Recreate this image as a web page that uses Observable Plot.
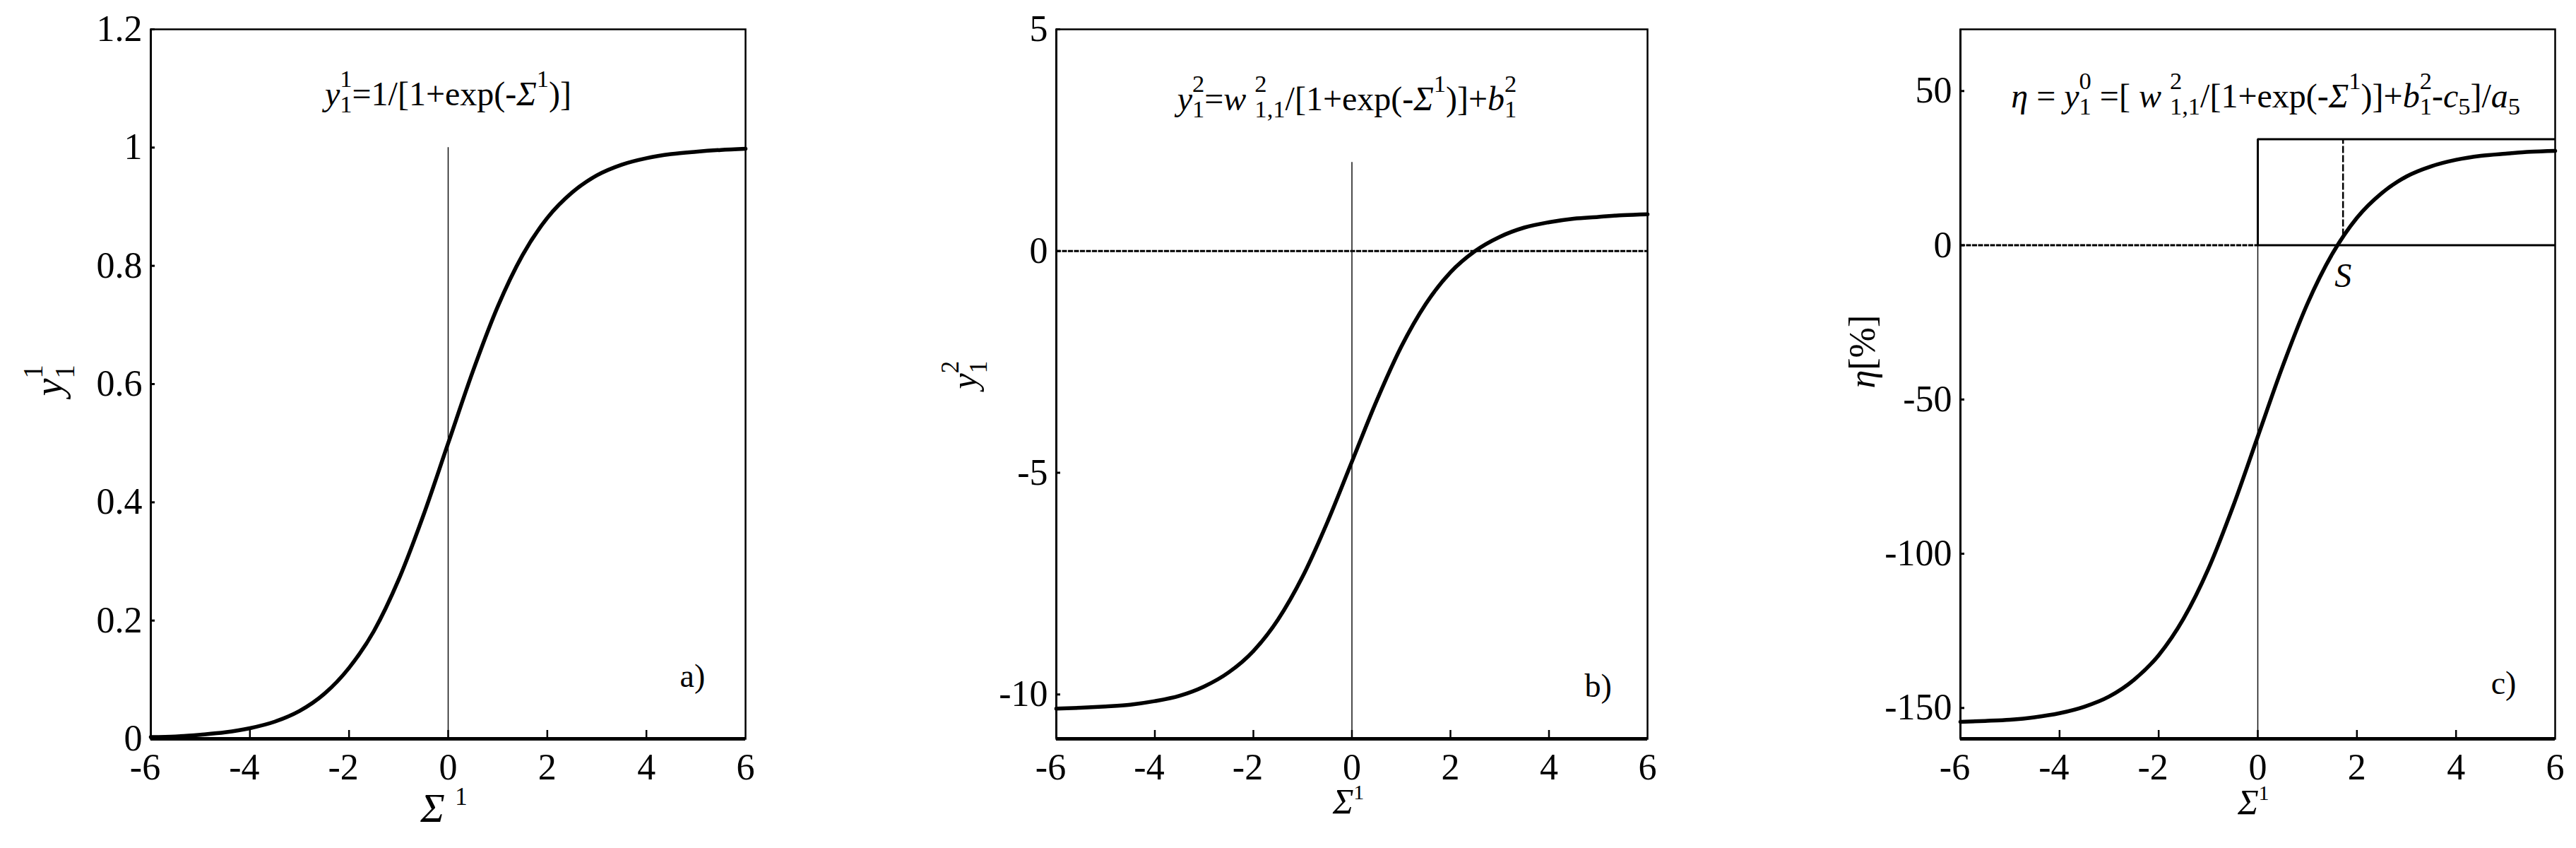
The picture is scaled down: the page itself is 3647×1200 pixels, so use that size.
<!DOCTYPE html>
<html><head><meta charset="utf-8">
<script src="https://cdn.jsdelivr.net/npm/d3@7"></script>
<script src="https://cdn.jsdelivr.net/npm/@observablehq/plot@0.6"></script>
<style>
body{margin:0;background:#fff}
#wrap{position:relative;width:3647px;height:1200px;overflow:hidden;background:#fff}
.panel{position:absolute;top:0}
.panel svg, .panel svg text, .panel svg tspan{font-family:"Liberation Serif","Times New Roman",Times,serif !important}
</style></head><body><div id="wrap"></div>
<script>
// ---------- data ----------
const sigma = [-6, -5.5, -5, -4.5, -4, -3.5, -3, -2.5, -2, -1.5, -1, -0.5, 0, 0.5, 1, 1.5, 2, 2.5, 3, 3.5, 4, 4.5, 5, 5.5, 6];
const y1Values = [0.003, 0.004, 0.007, 0.011, 0.018, 0.029, 0.047, 0.076, 0.12, 0.182, 0.269, 0.378, 0.5, 0.622, 0.731, 0.818, 0.881, 0.924, 0.953, 0.971, 0.982, 0.989, 0.993, 0.996, 0.998];
const y2Values = [-10.32, -10.3, -10.27, -10.23, -10.15, -10.03, -9.82, -9.5, -9.02, -8.31, -7.34, -6.12, -4.75, -3.38, -2.16, -1.19, -0.48, 0.0, 0.32, 0.53, 0.65, 0.73, 0.77, 0.81, 0.83];
const etaValues = [-154.5, -154.2, -153.8, -153.0, -151.7, -149.6, -146.3, -140.9, -132.9, -121.1, -105.0, -84.7, -62.0, -39.3, -19.0, -2.9, 8.9, 16.9, 22.3, 25.6, 27.7, 29.0, 29.7, 30.3, 30.6];

const xTicks = [-6, -4, -2, 0, 2, 4, 6];
const xTickMarks = [-4, -2, 0, 2, 4];
const yTicksA = [0, 0.2, 0.4, 0.6, 0.8, 1, 1.2];
const yTicksB = [-10, -5, 0, 5];
const yTicksC = [-150, -100, -50, 0, 50];
const yDomainA = [0, 1.2];
const yDomainB = [-11, 5];
const yDomainC = [-160, 70];

const formulaA = "*y*^{1}_{1}=1/[1+exp(-*Σ*^{1})]";
const formulaB = "*y*^{2}_{1}=*w* _{1,1}^{2}/[1+exp(-*Σ*^{1})]+*b*^{2}_{1}";
const formulaC = "*η* = *y*^{0}_{1} =[ *w* ^{2}_{1,1}/[1+exp(-*Σ*^{1})]+*b*^{2}_{1}-*c*_{5}]/*a*_{5}";
const panelTags = ["a)", "b)", "c)"];
const xLabels = ["*Σ* ^{1}", "*Σ*^{1}", "*Σ*^{1} "];
const yLabels = ["*y*^{1}_{1}", "*y*^{2}_{1}", "*η*[%]"];

// reference lines
const zeroLineTopA = 1;
const zeroLineTopB = 2;
const boxTopC = 34.4;
const sPointX = 1.72;
const sDashBottom = 3;
const sLabelY = -10;

// ---------- helpers ----------
const FONT = "Liberation Serif";
const H = 1200, mT = 41, mB = 155;
const TICK_FONT = 52;
const toPts = vals => sigma.map((x, i) => ({x, y: vals[i]}));

function tickLabelAxes(yTicks) {
  const fmt = d => String(d);
  return [
    Plot.axisX(xTicks.filter(d => d < 0), {anchor: "bottom", tickSize: 0, tickPadding: 21, fontSize: TICK_FONT, fontFamily: FONT, tickFormat: fmt, label: null, dx: -8}),
    Plot.axisX(xTicks.filter(d => d >= 0), {anchor: "bottom", tickSize: 0, tickPadding: 21, fontSize: TICK_FONT, fontFamily: FONT, tickFormat: fmt, label: null}),
    Plot.axisY(yTicks, {anchor: "left", tickSize: 0, tickPadding: 12, fontSize: TICK_FONT, fontFamily: FONT, tickFormat: fmt, label: null})
  ];
}

function makePanel(cfg) {
  const innerW = cfg.width - cfg.mL - cfg.mR;
  const innerH = H - mT - mB;
  const p = Plot.plot({
    width: cfg.width, height: H,
    marginLeft: cfg.mL, marginRight: cfg.mR, marginTop: mT, marginBottom: mB,
    x: {domain: [-6, 6], axis: null},
    y: {domain: cfg.yDomain, axis: null},
    style: {fontFamily: FONT, background: "transparent", color: "black", overflow: "visible"},
    marks: [
      ...cfg.extra,
      Plot.line(toPts(cfg.values), {x: "x", y: "y", stroke: "black", strokeWidth: 5.5, curve: "monotone-x", strokeLinejoin: "round"}),
      Plot.frame({stroke: "black", strokeWidth: 2.5}),
      Plot.ruleY([cfg.yDomain[0]], {stroke: "black", strokeWidth: 5}),
      Plot.ruleX([-6], {stroke: "black", strokeWidth: 3}),
      Plot.tickX(xTickMarks, {x: d => d, insetTop: innerH - 12, stroke: "black", strokeWidth: 2.5}),
      Plot.tickY(cfg.yTicks.filter(d => d !== cfg.yDomain[0]), {y: d => d, insetRight: innerW - 6, stroke: "black", strokeWidth: 3}),
      ...tickLabelAxes(cfg.yTicks),
      Plot.text([cfg.formula], {x: cfg.fPos[0], y: cfg.fPos[1], text: d => d, fontSize: 48, fontFamily: FONT, textAnchor: "middle"}),
      Plot.text([cfg.tag], {x: cfg.tagPos[0], y: cfg.tagPos[1], text: d => d, fontSize: 46, fontFamily: FONT, textAnchor: "middle"}),
      Plot.text([cfg.xLabel], {frameAnchor: "bottom", text: d => d, fontSize: cfg.xLabelFont, fontFamily: FONT, dx: cfg.xDx, dy: cfg.xDy}),
      Plot.text([cfg.yLabel], {frameAnchor: "left", text: d => d, fontSize: cfg.yLabelFont, fontFamily: FONT, rotate: -90, dx: cfg.yDx, dy: cfg.yDy}),
      ...(cfg.after || [])
    ]
  });
  const div = document.createElement("div");
  div.className = "panel";
  div.style.left = cfg.left + "px";
  div.appendChild(p);
  document.getElementById("wrap").appendChild(div);
  return p;
}

const panels = [];
panels.push(makePanel({
  left: 0, width: 1200, mL: 213, mR: 145,
  yDomain: yDomainA, yTicks: yTicksA, values: y1Values,
  extra: [Plot.ruleX([0], {y1: 0, y2: zeroLineTopA, stroke: "#111", strokeWidth: 1.5})],
  formula: formulaA, fPos: [0, 1.09],
  tag: panelTags[0], tagPos: [4.93, 0.106],
  xLabel: xLabels[0], xLabelFont: 58, xDx: -6, xDy: 117,
  yLabel: yLabels[0], yLabelFont: 56, yDx: -143, yDy: 17
}));
panels.push(makePanel({
  left: 1200, width: 1200, mL: 295, mR: 68,
  yDomain: yDomainB, yTicks: yTicksB, values: y2Values,
  extra: [
    Plot.ruleY([0], {stroke: "black", strokeWidth: 3, strokeDasharray: "7,1.5"}),
    Plot.ruleX([0], {y1: yDomainB[0], y2: zeroLineTopB, stroke: "#111", strokeWidth: 1.5})
  ],
  formula: formulaB, fPos: [-0.1, 3.42],
  tag: panelTags[1], tagPos: [5.0, -9.82],
  xLabel: xLabels[1], xLabelFont: 50, xDx: -5, xDy: 105,
  yLabel: yLabels[1], yLabelFont: 50, yDx: -130, yDy: 7
}));
panels.push(makePanel({
  left: 2400, width: 1247, mL: 375, mR: 30,
  yDomain: yDomainC, yTicks: yTicksC, values: etaValues,
  extra: [
    Plot.ruleY([0], {x1: -6, x2: 0, stroke: "black", strokeWidth: 3, strokeDasharray: "7,1.5"}),
    Plot.ruleX([0], {y1: yDomainC[0], y2: 0, stroke: "#111", strokeWidth: 1.5}),
    Plot.ruleY([0], {x1: 0, x2: 6, stroke: "black", strokeWidth: 3}),
    Plot.ruleY([boxTopC], {x1: 0, x2: 6, stroke: "black", strokeWidth: 3}),
    Plot.ruleX([0], {y1: 0, y2: boxTopC, stroke: "black", strokeWidth: 3}),
    Plot.ruleX([sPointX], {y1: sDashBottom, y2: boxTopC, stroke: "black", strokeWidth: 2.5, strokeDasharray: "10,3"})
  ],
  after: [Plot.text(["S"], {x: sPointX, y: sLabelY, text: d => d, fontSize: 48, fontFamily: FONT, fontStyle: "italic"})],
  formula: formulaC, fPos: [0.16, 48.2],
  tag: panelTags[2], tagPos: [4.96, -142],
  xLabel: xLabels[2], xLabelFont: 50, xDx: 0, xDy: 106,
  yLabel: yLabels[2], yLabelFont: 52, yDx: -138, yDy: 6
}));

// ---------- rich text (italic, sub/superscripts) ----------
const richStyles = {
  formula: {r: 0.72, up: 0.55, down: 0.2},
  xlabel: {r: 0.6, up: 0.4, down: 0.2},
  ylabel: {r: 0.7, up: 0.5, down: 0.3}
};
function parseRich(str) {
  const segs = [];
  let italic = false, i = 0, buf = "";
  const flush = () => { if (buf) segs.push({kind: "n", text: buf, italic}); buf = ""; };
  while (i < str.length) {
    const c = str[i];
    if (c === "*") { flush(); italic = !italic; i++; }
    else if ((c === "^" || c === "_") && str[i + 1] === "{") {
      flush();
      const j = str.indexOf("}", i);
      segs.push({kind: c === "^" ? "sup" : "sub", text: str.slice(i + 2, j), italic: false});
      i = j + 1;
    } else { buf += c; i++; }
  }
  flush();
  return segs;
}
function applyRich(svg) {
  svg.querySelectorAll("text").forEach(el => {
    const src = el.textContent;
    if (!/[*]|\^\{|_\{/.test(src)) return;
    const st = xLabels.includes(src) ? richStyles.xlabel : yLabels.includes(src) ? richStyles.ylabel : richStyles.formula;
    const F = parseFloat(getComputedStyle(el).fontSize);
    const segs = parseRich(src);
    while (el.firstChild) el.removeChild(el.firstChild);
    let cur = 0;
    const spans = segs.map(seg => {
      const ts = document.createElementNS("http://www.w3.org/2000/svg", "tspan");
      ts.textContent = seg.text;
      const target = seg.kind === "sup" ? -st.up * F : seg.kind === "sub" ? st.down * F : 0;
      const dy = target - cur; cur = target;
      if (dy) ts.setAttribute("dy", dy);
      if (seg.kind !== "n") ts.setAttribute("font-size", st.r * F);
      if (seg.italic) ts.setAttribute("font-style", "italic");
      el.appendChild(ts);
      return {ts, seg};
    });
    for (let k = 1; k < spans.length; k++) {
      const a = spans[k - 1], b = spans[k];
      if (a.seg.kind !== "n" && b.seg.kind !== "n" && a.seg.kind !== b.seg.kind) {
        const wa = a.ts.getComputedTextLength(), wb = b.ts.getComputedTextLength();
        b.ts.setAttribute("dx", -wa);
        const nxt = spans[k + 1];
        if (nxt && wa > wb) nxt.ts.setAttribute("dx", wa - wb);
      }
    }
  });
}
panels.forEach(applyRich);
</script></body></html>
